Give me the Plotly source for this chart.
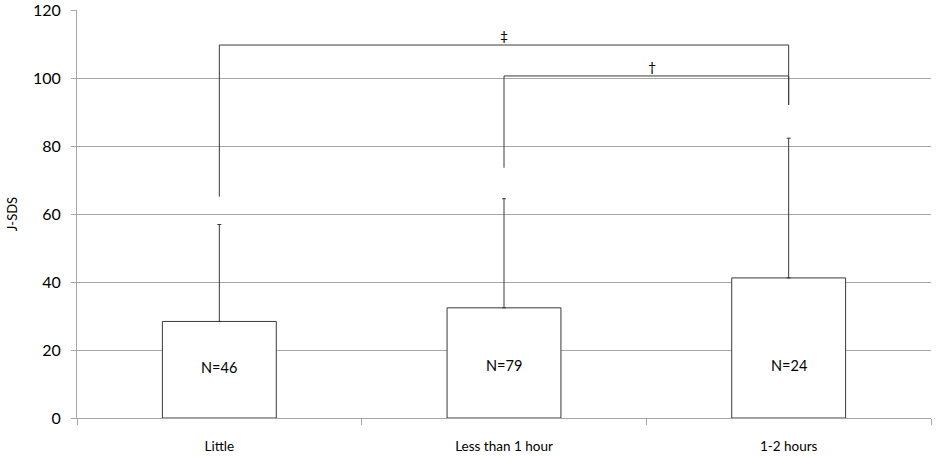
import plotly.graph_objects as go

categories = ["Little", "Less than 1 hour", "1-2 hours"]
means = [28.4, 32.4, 41.2]
sd_plus = [28.5, 32.1, 41.1]
n_labels = ["N=46", "N=79", "N=24"]
n_label_y = [15, 15.5, 15.5]

# significance brackets: (left category, right category, bar height, left leg bottom, right leg bottom, mark)
brackets = [
    ("Little", "1-2 hours", 109.7, 65.1, 92.1, "‡"),
    ("Less than 1 hour", "1-2 hours", 100.6, 73.6, 92.1, "†"),
]

y_ticks = [0, 20, 40, 60, 80, 100, 120]

font_family = "Lato, 'Open Sans', sans-serif"
dark = "#3a3a3a"
grid = "#a6a6a6"

fig = go.Figure()
fig.add_trace(go.Bar(
    x=categories, y=means, width=0.4,
    marker=dict(color="white", line=dict(color=dark, width=1)),
    error_y=dict(type="data", array=sd_plus, arrayminus=[0, 0, 0], symmetric=False,
                 color=dark, thickness=1, width=2),
    showlegend=False, hoverinfo="skip",
))

for left, right, h, lb, rb, mark in brackets:
    fig.add_trace(go.Scatter(
        x=[left, left, right, right], y=[lb, h, h, rb], mode="lines",
        line=dict(color=dark, width=1), showlegend=False, hoverinfo="skip",
        cliponaxis=False,
    ))
    fig.add_annotation(x=1.0 if left == "Little" else 1.52, xref="x", y=h, yref="y",
                       text=mark, showarrow=False, yanchor="bottom", yshift=-1,
                       font=dict(size=14, color="black", family=font_family))

for c, t, ty in zip(categories, n_labels, n_label_y):
    fig.add_annotation(x=c, y=ty, text=t, showarrow=False,
                       font=dict(size=14.5, color="black", family=font_family))

fig.update_layout(
    width=938, height=458,
    margin=dict(l=77, r=7, t=10, b=40),
    plot_bgcolor="white", paper_bgcolor="white",
    font=dict(family=font_family, size=13, color="black"),
    bargap=0.6,
)
fig.update_xaxes(
    type="category", categoryorder="array", categoryarray=categories,
    range=[-0.5, 2.5], automargin=False,
    showline=True, linecolor=grid, linewidth=1,
    ticks="outside", tickson="boundaries", ticklen=6, tickcolor=grid,
    ticklabelstandoff=16,
    showgrid=False, tickfont=dict(size=13.5, color="black"),
)
fig.update_yaxes(
    range=[0, 120], tickvals=y_ticks, ticktext=[str(v) for v in y_ticks],
    automargin=False, ticklabeloverflow="allow",
    showline=True, linecolor=grid, linewidth=1,
    ticks="outside", ticklen=5, tickcolor=grid, ticklabelstandoff=7,
    showgrid=True, gridcolor=grid, gridwidth=1, zeroline=False,
    title=dict(text="J-SDS", font=dict(size=13, color="black"), standoff=12),
    tickfont=dict(size=16, color="black"),
)

fig.write_html("out.html", config={"displayModeBar": False},
               post_script="document.body.style.margin='0';")
